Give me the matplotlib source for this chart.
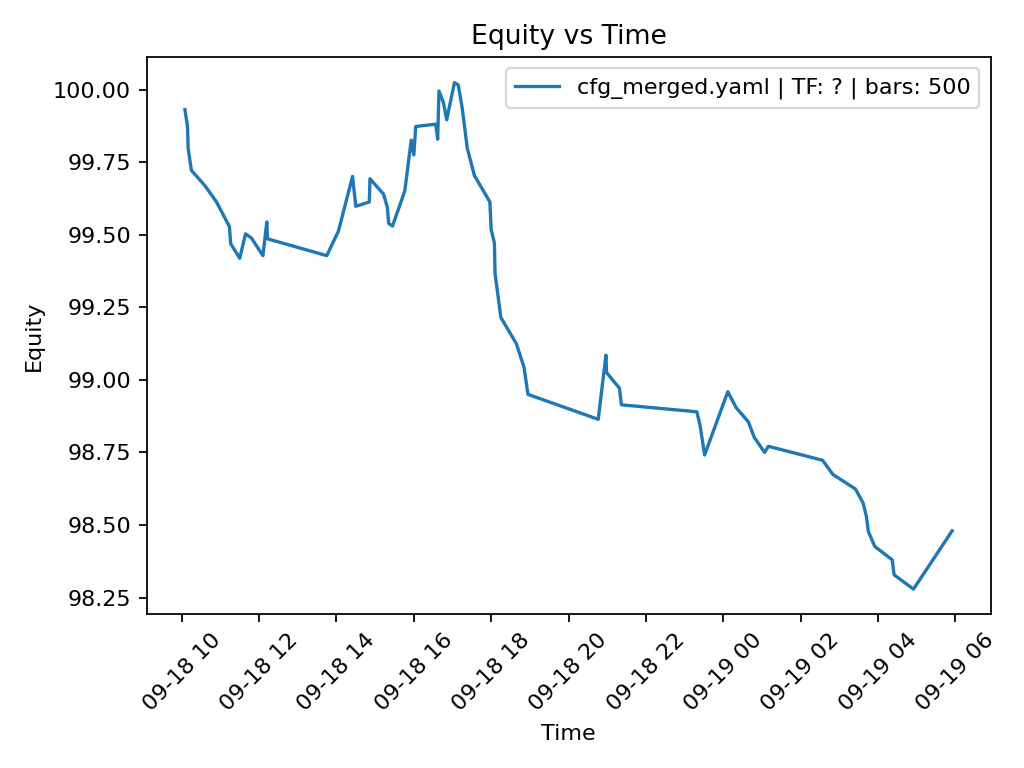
import matplotlib
matplotlib.use("Agg")
import matplotlib.pyplot as plt
import matplotlib.dates as mdates
import pandas as pd

times = [
    "2024-09-18 10:05", "2024-09-18 10:09", "2024-09-18 10:10", "2024-09-18 10:15",
    "2024-09-18 10:36", "2024-09-18 10:54", "2024-09-18 11:14", "2024-09-18 11:16",
    "2024-09-18 11:30", "2024-09-18 11:39", "2024-09-18 11:48", "2024-09-18 12:06",
    "2024-09-18 12:12", "2024-09-18 12:13", "2024-09-18 13:45", "2024-09-18 14:03",
    "2024-09-18 14:25", "2024-09-18 14:30", "2024-09-18 14:51", "2024-09-18 14:52",
    "2024-09-18 15:13", "2024-09-18 15:19", "2024-09-18 15:21", "2024-09-18 15:27",
    "2024-09-18 15:46", "2024-09-18 15:56", "2024-09-18 16:00", "2024-09-18 16:03",
    "2024-09-18 16:34", "2024-09-18 16:37", "2024-09-18 16:39", "2024-09-18 16:46",
    "2024-09-18 16:51", "2024-09-18 17:03", "2024-09-18 17:09", "2024-09-18 17:15",
    "2024-09-18 17:23", "2024-09-18 17:34", "2024-09-18 17:58", "2024-09-18 18:00",
    "2024-09-18 18:05", "2024-09-18 18:06", "2024-09-18 18:15", "2024-09-18 18:39",
    "2024-09-18 18:51", "2024-09-18 18:57", "2024-09-18 20:46", "2024-09-18 20:58",
    "2024-09-18 20:59", "2024-09-18 21:19", "2024-09-18 21:22", "2024-09-18 23:19",
    "2024-09-18 23:24", "2024-09-18 23:31", "2024-09-19 00:07", "2024-09-19 00:20",
    "2024-09-19 00:39", "2024-09-19 00:48", "2024-09-19 01:04", "2024-09-19 01:10",
    "2024-09-19 02:34", "2024-09-19 02:50", "2024-09-19 03:25", "2024-09-19 03:37",
    "2024-09-19 03:42", "2024-09-19 03:45", "2024-09-19 03:55", "2024-09-19 04:22",
    "2024-09-19 04:25", "2024-09-19 04:55", "2024-09-19 05:55",
]
equity = [
    99.931, 99.873, 99.797, 99.722,
    99.669, 99.613, 99.528, 99.469,
    99.419, 99.503, 99.489, 99.428,
    99.544, 99.486, 99.428, 99.512,
    99.701, 99.598, 99.613, 99.693,
    99.640, 99.594, 99.539, 99.530,
    99.651, 99.826, 99.775, 99.873,
    99.881, 99.829, 99.995, 99.955,
    99.896, 100.024, 100.016, 99.937,
    99.797, 99.704, 99.613, 99.518,
    99.472, 99.367, 99.215, 99.125,
    99.043, 98.950, 98.864, 99.085,
    99.025, 98.971, 98.914, 98.890,
    98.843, 98.741, 98.959, 98.904,
    98.855, 98.802, 98.750, 98.771,
    98.723, 98.674, 98.624, 98.575,
    98.529, 98.477, 98.426, 98.380,
    98.328, 98.279, 98.480,
]
label = "cfg_merged.yaml | TF: ? | bars: 500"

t = pd.to_datetime(times)

fig, ax = plt.subplots(figsize=(6.4, 4.8), dpi=160)
ax.plot(t, equity, label=label)
ax.set_title("Equity vs Time")
ax.set_xlabel("Time")
ax.set_ylabel("Equity")
ax.xaxis.set_major_locator(mdates.HourLocator(byhour=range(0, 24, 2)))
ax.xaxis.set_major_formatter(mdates.DateFormatter("%m-%d %H"))
plt.setp(ax.get_xticklabels(), rotation=45)
ax.legend(loc="upper right")
fig.tight_layout()
fig.savefig("out.png", dpi=160)
